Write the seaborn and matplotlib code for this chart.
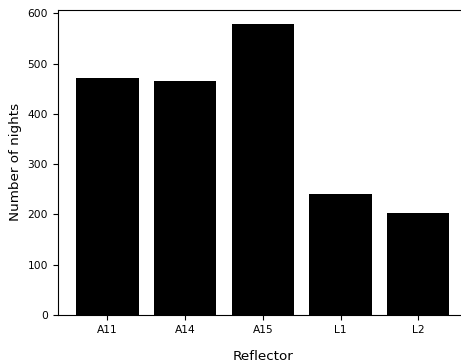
import matplotlib
matplotlib.use("Agg")
import matplotlib.pyplot as plt
import seaborn as sns
import pandas as pd

reflectors = ["A11", "A14", "A15", "L1", "L2"]
nights = [471, 465, 578, 240, 203]

df = pd.DataFrame({"Reflector": reflectors, "Number of nights": nights})

fig = plt.figure(figsize=(4.61, 3.64), dpi=100)
ax = fig.add_axes([0.1252, 0.1346, 0.89, 0.8388])

sns.barplot(data=df, x="Reflector", y="Number of nights", color="black",
            saturation=1, width=0.8, ax=ax)

ax.set_xlim(-0.64, 4.64)
ax.set_ylim(0, 607)
ax.tick_params(labelsize=7.7)
ax.set_xlabel("Reflector", fontsize=9.7, labelpad=11)
ax.set_ylabel("Number of nights", fontsize=9.7, labelpad=4)

fig.savefig("out.png", dpi=100)
